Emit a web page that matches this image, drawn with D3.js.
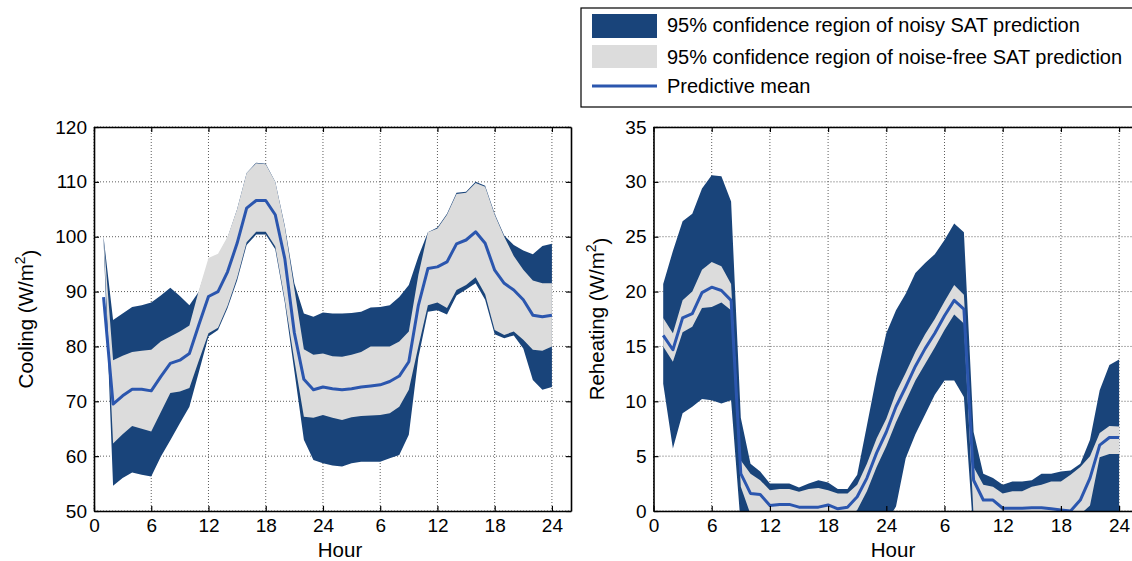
<!DOCTYPE html>
<html>
<head>
<meta charset="utf-8">
<script src="https://cdn.jsdelivr.net/npm/d3@7"></script>
<style>
  body { margin: 0; background: #fff; }
  svg { display: block; font-family: "Liberation Sans", Arial, Helvetica, sans-serif; }
</style>
</head>
<body>
<div id="chart"></div>
<script>
// hours of the two-day horizon
const hours = [1,2,3,4,5,6,7,8,9,10,11,12,13,14,15,16,17,18,19,20,21,22,23,24,
               25,26,27,28,29,30,31,32,33,34,35,36,37,38,39,40,41,42,43,44,45,46,47,48];
const xTickValues = [0, 6, 12, 18, 24, 30, 36, 42, 48];

// Cooling (W/m2)
const coolMean = [89,69.5,71,72.2,72.2,71.9,74.5,76.9,77.5,78.7,84,89.1,90,93.6,98.8,105.2,106.6,106.6,104,96,82.5,74,72.1,72.6,
                  72.3,72.1,72.3,72.6,72.8,73,73.6,74.6,77.2,87.5,94.2,94.5,95.4,98.7,99.4,100.9,98.8,93.9,91.5,90.3,88.5,85.7,85.4,85.7];
const coolFreeHi = [100,77.5,78.3,79,79.2,79.4,80.9,81.8,82.7,83.8,90.3,96.1,96.9,100,105,111.6,113.4,113.2,110,101.8,90.5,79.5,78.5,78.7,
                    78.2,78.1,78.5,79,80,80,80,80.9,82.7,93,100.8,101.5,104,107.8,108,109.8,109.1,104,100,96.5,94,92,91.5,91.5];
const coolFreeLo = [99.5,62.3,64,65.5,65,64.5,68,71.5,71.8,72.4,77.5,82.4,83.4,87.4,92.5,99,100.9,100.9,98.2,88.5,77.5,67.2,67,67.5,
                    67,66.6,67.1,67.3,67.4,67.5,67.8,69,72.1,80,87.5,88,87,90.3,91.2,92.6,89.5,83,82.1,82.7,81.2,79.4,79.2,80];
const coolNoisyHi = [100,84.8,86,87.2,87.5,88,89.3,90.7,89.2,87.5,90,95.5,96.5,99.8,105,111.6,113.5,113.3,110,102,91.5,86,85.4,86.2,
                     86,86,86.1,86.3,87.1,87.2,87.5,89,91.2,96.4,100.8,101.7,104.2,108,108.2,110,109.3,104.2,100.2,98.5,97.5,96.8,98.3,98.7];
const coolNoisyLo = [99.5,54.6,56,57,56.6,56.3,59.9,62.9,66,69,75.4,81.8,83,87,92,98.5,100.4,100.4,97.7,88,75.5,63,59.3,58.7,
                     58.3,58.1,58.7,59,59,59,59.6,60.2,63.9,78,86.3,86.6,85.8,89.3,90.4,91.5,88.5,82.2,81.5,82,79.6,73.9,72.1,72.6];

// Reheating (W/m2)
const heatMean = [16,14.7,17.6,18,19.9,20.4,20.1,19.2,3.4,1.6,1.5,0.5,0.6,0.6,0.35,0.35,0.35,0.55,0.2,0.35,1.3,3,5.3,7.2,
                  9.5,11.3,13.2,14.8,16.2,17.8,19.2,18.4,2.8,1,1,0.25,0.25,0.25,0.3,0.3,0.2,0.1,0,1,3,6,6.7,6.7];
const heatFreeHi = [17.6,16.2,19.2,20,22,22.7,22.3,20.7,4.6,3.4,2.8,1.9,2,2,1.75,2,2.1,1.9,1.6,1.6,2.4,4.3,6.6,8.4,
                    10.8,12.6,14.5,16.1,17.5,19.1,20.6,19.7,4,2.4,2.2,1.6,1.8,1.8,2.2,2.4,2.7,2.7,3.3,4,5,7.1,7.75,7.7];
const heatFreeLo = [15,13.6,16.3,16.8,18.5,18.6,19,18.3,2.2,-0.3,-0.3,-0.8,-0.8,-0.8,-0.8,-0.8,-0.8,-0.8,-0.8,-0.8,0.1,1.8,4,5.9,
                    8.1,10,11.9,13.4,14.9,16.5,17.9,17.1,-0.5,-1,-1,-1,-1,-1,-1,-1,-1,-1,-1,-0.3,0.5,4.9,5.2,5.2];
const heatNoisyHi = [20.7,23.7,26.4,27.1,29.4,30.6,30.5,28.2,8.5,4.3,3.6,2.5,2.5,2.5,2.15,2.5,2.8,2.6,2,2,3.3,7.8,12.3,16.2,
                     18.3,19.8,21.7,22.6,23.4,24.7,26.2,25.4,7.2,3.4,3,2.4,2.7,2.7,2.8,3.4,3.4,3.6,3.7,4.3,6.5,11,13.3,13.8];
const heatNoisyLo = [11.6,5.7,8.9,9.5,10.2,10.1,9.8,10.1,-1.4,-3,-3,-3,-3,-3,-3,-3,-3,-3,-3,-3,-3,-3,-2,-1,
                     0.4,4.8,7,8.8,10.6,11.9,11.9,10.4,-2.3,-3,-3,-3,-3,-3,-3,-3,-3,-3,-3,-3,-3,-3,-3,-3];

const legendLabels = ["95% confidence region of noisy SAT prediction",
                      "95% confidence region of noise-free SAT prediction",
                      "Predictive mean"];

const darkBlue = "#19447a";
const lightGray = "#dcdcdc";
const meanBlue = "#2b56ae";

const plotTop = 127, plotBottom = 511;

const svg = d3.select("#chart").append("svg")
    .attr("width", 1132)
    .attr("height", 561);
const defs = svg.append("defs");

const panels = [
  { left: 94, right: 571, yDomain: [50, 120], yTicks: [50,60,70,80,90,100,110,120],
    label: "Cooling (W/m", labelX: 33, hourX: 340,
    mean: coolMean, freeHi: coolFreeHi, freeLo: coolFreeLo, noisyHi: coolNoisyHi, noisyLo: coolNoisyLo },
  { left: 653.5, right: 1138.5, yDomain: [0, 35], yTicks: [0,5,10,15,20,25,30,35],
    label: "Reheating (W/m", labelX: 604, hourX: 893,
    mean: heatMean, freeHi: heatFreeHi, freeLo: heatFreeLo, noisyHi: heatNoisyHi, noisyLo: heatNoisyLo }
];

panels.forEach((p, i) => {
  const x = d3.scaleLinear().domain([0, 50]).range([p.left, p.right]);
  const y = d3.scaleLinear().domain(p.yDomain).range([plotBottom, plotTop]);

  defs.append("clipPath").attr("id", "clip" + i)
    .append("rect")
    .attr("x", p.left).attr("y", plotTop)
    .attr("width", p.right - p.left).attr("height", plotBottom - plotTop);

  const g = svg.append("g");

  // dotted grid (below the data)
  g.selectAll(".gx").data(xTickValues).join("line")
    .attr("x1", d => x(d)).attr("x2", d => x(d))
    .attr("y1", plotTop).attr("y2", plotBottom)
    .attr("stroke", "#333").attr("stroke-width", 0.8)
    .attr("stroke-dasharray", "1,2");
  g.selectAll(".gy").data(p.yTicks).join("line")
    .attr("x1", p.left).attr("x2", p.right)
    .attr("y1", d => y(d)).attr("y2", d => y(d))
    .attr("stroke", "#333").attr("stroke-width", 0.8)
    .attr("stroke-dasharray", "1,2");

  const plot = g.append("g").attr("clip-path", `url(#clip${i})`);

  const band = (lo, hi) => d3.area()
    .x((d, j) => x(hours[j]))
    .y0((d, j) => y(lo[j]))
    .y1((d, j) => y(hi[j]));

  plot.append("path").datum(hours)
    .attr("d", band(p.noisyLo, p.noisyHi))
    .attr("fill", darkBlue);

  plot.append("path").datum(hours)
    .attr("d", band(p.freeLo, p.freeHi))
    .attr("fill", lightGray);

  const line = d3.line()
    .x((d, j) => x(hours[j]))
    .y((d, j) => y(p.mean[j]));

  plot.append("path").datum(hours)
    .attr("d", line)
    .attr("fill", "none")
    .attr("stroke", meanBlue)
    .attr("stroke-width", 3)
    .attr("stroke-linejoin", "round");

  // axes, ticks pointing inward on all four sides
  const fmt = d => (d > 0 && d % 24 === 0) ? "24" : String(d % 24);

  const ax = [
    g.append("g").attr("transform", `translate(0,${plotBottom})`)
      .call(d3.axisBottom(x).tickValues(xTickValues).tickFormat(fmt).tickSize(-5).tickSizeOuter(0).tickPadding(8)),
    g.append("g").attr("transform", `translate(0,${plotTop})`)
      .call(d3.axisTop(x).tickValues(xTickValues).tickFormat("").tickSize(-5).tickSizeOuter(0)),
    g.append("g").attr("transform", `translate(${p.left},0)`)
      .call(d3.axisLeft(y).tickValues(p.yTicks).tickSize(-5).tickSizeOuter(0).tickPadding(7)),
    g.append("g").attr("transform", `translate(${p.right},0)`)
      .call(d3.axisRight(y).tickValues(p.yTicks).tickFormat("").tickSize(-5).tickSizeOuter(0))
  ];
  ax.forEach(a => {
    a.select(".domain").attr("stroke", "#000").attr("stroke-width", 1.6);
    a.selectAll(".tick line").attr("stroke", "#000").attr("stroke-width", 1.2);
    a.selectAll(".tick text")
      .attr("fill", "#000")
      .style("font-family", "'Liberation Sans', Arial, sans-serif")
      .style("font-size", "19px");
  });

  // axis titles
  const yl = g.append("text")
    .attr("transform", `translate(${p.labelX},${(plotTop + plotBottom) / 2}) rotate(-90)`)
    .attr("text-anchor", "middle")
    .style("font-size", "20.5px")
    .attr("fill", "#000");
  yl.append("tspan").text(p.label);
  yl.append("tspan").attr("dy", "-0.55em").style("font-size", "14px").text("2");
  yl.append("tspan").attr("dy", "0.55em").text(")");

  g.append("text")
    .attr("x", p.hourX).attr("y", 557)
    .attr("text-anchor", "middle")
    .style("font-size", "20.5px")
    .attr("fill", "#000")
    .text("Hour");
});

// legend
const lg = svg.append("g");
lg.append("rect")
  .attr("x", 581).attr("y", 8)
  .attr("width", 560).attr("height", 99)
  .attr("fill", "#fff").attr("stroke", "#000").attr("stroke-width", 1.2);

lg.append("rect").attr("x", 592).attr("y", 14).attr("width", 65).attr("height", 24).attr("fill", darkBlue);
lg.append("rect").attr("x", 592).attr("y", 45).attr("width", 65).attr("height", 23).attr("fill", lightGray);
lg.append("line").attr("x1", 592).attr("x2", 657).attr("y1", 86).attr("y2", 86)
  .attr("stroke", meanBlue).attr("stroke-width", 3);

lg.selectAll(".lt").data(legendLabels).join("text")
  .attr("x", 667)
  .attr("y", (d, i) => [32, 64, 93][i])
  .style("font-size", "20px")
  .attr("fill", "#000")
  .text(d => d);
</script>
</body>
</html>
